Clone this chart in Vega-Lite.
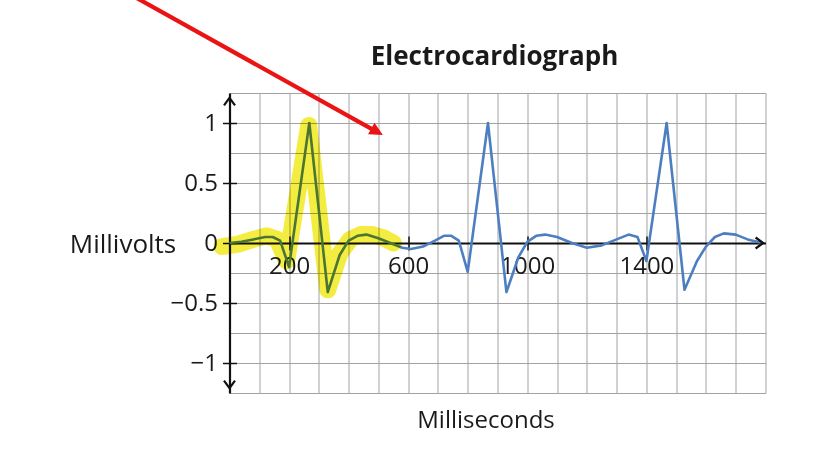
{
  "$schema": "https://vega.github.io/schema/vega-lite/v6.json",
  "autosize": {"type": "none"},
  "width": 536,
  "height": 300,
  "padding": {"left": 229.5, "top": 93, "right": 69.5, "bottom": 79},
  "background": "white",
  "config": {
    "view": {"stroke": null},
    "font": "Open Sans",
    "axis": {"labelFont": "Open Sans", "titleFont": "Open Sans", "labelColor": "#1a1a1a", "titleColor": "#1a1a1a"}
  },
  "datasets": {
    "ecg": [
      {"ms": 0, "mV": 0.0}, {"ms": 40, "mV": 0.01}, {"ms": 80, "mV": 0.03}, {"ms": 120, "mV": 0.05},
      {"ms": 145, "mV": 0.05}, {"ms": 170, "mV": 0.02}, {"ms": 200, "mV": -0.2}, {"ms": 268, "mV": 1.0},
      {"ms": 330, "mV": -0.41}, {"ms": 370, "mV": -0.1}, {"ms": 400, "mV": 0.02}, {"ms": 430, "mV": 0.06},
      {"ms": 460, "mV": 0.07}, {"ms": 500, "mV": 0.04}, {"ms": 540, "mV": 0.0}, {"ms": 580, "mV": -0.04},
      {"ms": 610, "mV": -0.05}, {"ms": 650, "mV": -0.03}, {"ms": 690, "mV": 0.02}, {"ms": 720, "mV": 0.06},
      {"ms": 745, "mV": 0.06}, {"ms": 770, "mV": 0.02}, {"ms": 800, "mV": -0.24}, {"ms": 868, "mV": 1.0},
      {"ms": 930, "mV": -0.41}, {"ms": 970, "mV": -0.12}, {"ms": 1000, "mV": 0.01}, {"ms": 1030, "mV": 0.06},
      {"ms": 1060, "mV": 0.07}, {"ms": 1100, "mV": 0.05}, {"ms": 1150, "mV": 0.0}, {"ms": 1200, "mV": -0.04},
      {"ms": 1250, "mV": -0.02}, {"ms": 1300, "mV": 0.03}, {"ms": 1340, "mV": 0.07}, {"ms": 1370, "mV": 0.05},
      {"ms": 1400, "mV": -0.15}, {"ms": 1468, "mV": 1.0}, {"ms": 1528, "mV": -0.39}, {"ms": 1570, "mV": -0.15},
      {"ms": 1600, "mV": -0.03}, {"ms": 1630, "mV": 0.05}, {"ms": 1660, "mV": 0.08}, {"ms": 1700, "mV": 0.07},
      {"ms": 1740, "mV": 0.03}, {"ms": 1790, "mV": 0.0}
    ],
    "highlight": [
      {"ms": -25, "mV": -0.03}, {"ms": 30, "mV": -0.01}, {"ms": 80, "mV": 0.03}, {"ms": 125, "mV": 0.06},
      {"ms": 160, "mV": 0.03}, {"ms": 192, "mV": -0.15}, {"ms": 266, "mV": 0.98}, {"ms": 330, "mV": -0.39},
      {"ms": 370, "mV": -0.09}, {"ms": 405, "mV": 0.03}, {"ms": 440, "mV": 0.07}, {"ms": 480, "mV": 0.07},
      {"ms": 520, "mV": 0.04}, {"ms": 550, "mV": 0.0}
    ],
    "axisArrows": [
      {"ms": 0, "mV": 1.21, "dir": "up"},
      {"ms": 0, "mV": -1.21, "dir": "down"},
      {"ms": 1792, "mV": 0, "dir": "right"}
    ],
    "pointer": [
      {"ms": -361, "mV": 2.11},
      {"ms": 492, "mV": 0.93}
    ],
    "pointerTip": [
      {"ms": 515, "mV": 0.9}
    ]
  },
  "resolve": {"axis": {"x": "independent", "y": "independent"}},
  "layer": [
    {
      "data": {"name": "ecg"},
      "mark": {"type": "line", "color": "#4d7fc0", "strokeWidth": 2.6, "strokeJoin": "round"},
      "encoding": {
        "x": {
          "field": "ms", "type": "quantitative",
          "scale": {"domain": [0, 1800], "nice": false, "zero": false},
          "axis": {
            "orient": "bottom", "grid": true, "gridColor": "#a3a3a3", "gridWidth": 1,
            "values": [0, 100, 200, 300, 400, 500, 600, 700, 800, 900, 1000, 1100, 1200, 1300, 1400, 1500, 1600, 1700, 1800],
            "labels": false, "ticks": false, "domain": false, "title": null, "zindex": 0
          }
        },
        "y": {
          "field": "mV", "type": "quantitative",
          "scale": {"domain": [-1.25, 1.25], "nice": false, "zero": false},
          "axis": {
            "orient": "left", "grid": true, "gridColor": "#a3a3a3", "gridWidth": 1,
            "values": [-1.25, -1, -0.75, -0.5, -0.25, 0, 0.25, 0.5, 0.75, 1, 1.25],
            "labels": false, "ticks": false, "domain": false, "title": null, "zindex": 0
          }
        }
      }
    },
    {
      "data": {"name": "axisArrows"},
      "mark": {"type": "point", "filled": false, "stroke": "#111111", "strokeWidth": 2.2, "size": 400, "opacity": 1},
      "encoding": {
        "x": {
          "field": "ms", "type": "quantitative",
          "axis": {
            "orient": "bottom", "offset": -150, "grid": false,
            "values": [200, 600, 1000, 1400], "format": "d",
            "domain": true, "domainColor": "#111111", "domainWidth": 2.2,
            "ticks": true, "tickColor": "#111111", "tickSize": 7, "tickWidth": 1.5,
            "labelFontSize": 24, "labelPadding": 4, "labelFlush": false,
            "title": "Milliseconds", "titleFontSize": 24, "titleFontWeight": "normal",
            "titleX": 256, "titleY": 177, "titleBaseline": "middle", "titleAlign": "center",
            "zindex": 0
          }
        },
        "y": {
          "field": "mV", "type": "quantitative",
          "axis": {
            "orient": "left", "grid": false,
            "values": [-1, -0.5, 0, 0.5, 1], "format": "~g",
            "domain": true, "domainColor": "#111111", "domainWidth": 2.2,
            "ticks": true, "tickColor": "#111111", "tickSize": 7, "tickWidth": 1.5,
            "labelFontSize": 24, "labelPadding": 5, "labelFlush": false,
            "title": "Millivolts", "titleFontSize": 26, "titleFontWeight": "normal", "titleAngle": 0,
            "titleX": -107, "titleY": 151, "titleBaseline": "middle", "titleAlign": "center",
            "zindex": 0
          }
        },
        "shape": {
          "field": "dir", "type": "nominal", "legend": null,
          "scale": {
            "domain": ["up", "down", "right"],
            "range": ["M-0.55,0.75L0,0L0.55,0.75", "M-0.55,-0.75L0,0L0.55,-0.75", "M-0.75,-0.55L0,0L-0.75,0.55"]
          }
        }
      }
    },
    {
      "data": {"name": "pointer"},
      "mark": {"type": "line", "color": "#ea1414", "strokeWidth": 4.2, "strokeCap": "butt"},
      "encoding": {
        "x": {
          "field": "ms", "type": "quantitative",
          "axis": {
            "orient": "bottom", "offset": -150, "grid": false,
            "values": [200, 600, 1000, 1400],
            "domain": false, "labels": false, "title": null,
            "ticks": true, "tickColor": "#111111", "tickSize": -7, "tickWidth": 1.5, "zindex": 0
          }
        },
        "y": {
          "field": "mV", "type": "quantitative",
          "axis": {
            "orient": "left", "grid": false,
            "values": [-1, -0.5, 0, 0.5, 1],
            "domain": false, "labels": false, "title": null,
            "ticks": true, "tickColor": "#111111", "tickSize": -7, "tickWidth": 1.5, "zindex": 0
          }
        }
      }
    },
    {
      "data": {"name": "highlight"},
      "mark": {"type": "line", "color": "#f4ec30", "strokeWidth": 17, "strokeCap": "round", "strokeJoin": "round", "opacity": 0.92, "blend": "multiply"},
      "encoding": {
        "x": {
          "field": "ms", "type": "quantitative",
          "axis": {
            "orient": "top", "grid": false, "domain": false, "ticks": false, "labels": false,
            "title": "Electrocardiograph", "titleFontSize": 26, "titleFontWeight": "bold",
            "titleX": 264.5, "titleY": -37, "titleBaseline": "middle", "titleAlign": "center", "zindex": 0
          }
        },
        "y": {"field": "mV", "type": "quantitative", "axis": null}
      }
    },
    {
      "data": {"name": "pointerTip"},
      "mark": {"type": "point", "filled": true, "color": "#ea1414", "opacity": 1, "size": 700, "angle": 29, "shape": "M0,0L-1,-0.5L-1,0.5Z"},
      "encoding": {
        "x": {"field": "ms", "type": "quantitative", "axis": null},
        "y": {"field": "mV", "type": "quantitative", "axis": null}
      }
    }
  ]
}
